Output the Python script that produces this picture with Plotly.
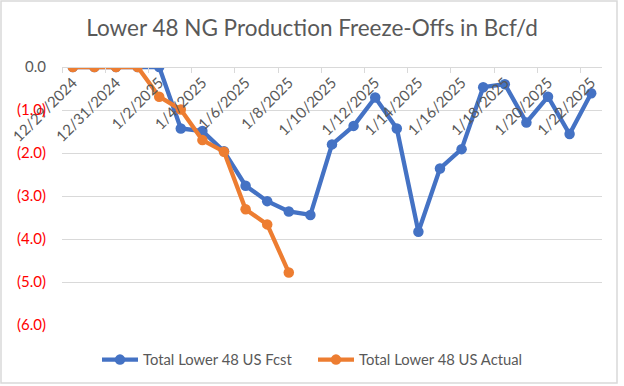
import plotly.graph_objects as go

dates = ["12/29/2024", "12/30/2024", "12/31/2024", "1/1/2025", "1/2/2025", "1/3/2025",
         "1/4/2025", "1/5/2025", "1/6/2025", "1/7/2025", "1/8/2025", "1/9/2025",
         "1/10/2025", "1/11/2025", "1/12/2025", "1/13/2025", "1/14/2025", "1/15/2025",
         "1/16/2025", "1/17/2025", "1/18/2025", "1/19/2025", "1/20/2025", "1/21/2025",
         "1/22/2025"]
fcst = [0.0, 0.0, 0.0, 0.0, 0.0, -1.43, -1.49, -1.96, -2.76, -3.12, -3.36, -3.44,
        -1.80, -1.37, -0.71, -1.43, -3.83, -2.36, -1.91, -0.47, -0.40, -1.29,
        -0.69, -1.56, -0.61]
actual = [0.0, 0.0, 0.0, 0.0, -0.69, -0.99, -1.70, -1.97, -3.31, -3.66, -4.78]
ytick_vals = [0, -1, -2, -3, -4, -5, -6]
ytick_text = ["0.0", "(1.0)", "(2.0)", "(3.0)", "(4.0)", "(5.0)", "(6.0)"]

FONT = "Lato"
GRAY = "#595959"
idx = list(range(len(dates)))

fig = go.Figure()
fig.add_trace(go.Scatter(
    x=idx, y=fcst, mode="lines+markers", name="Total Lower 48 US Fcst",
    line=dict(color="#4472C4", width=4.3), marker=dict(size=10.5, color="#4472C4"),
))
fig.add_trace(go.Scatter(
    x=idx[:len(actual)], y=actual, mode="lines+markers", name="Total Lower 48 US Actual",
    line=dict(color="#ED7D31", width=4.3), marker=dict(size=10.5, color="#ED7D31"),
))

ytext = [t if v == 0 else f'<span style="color:#FF0000">{t}</span>' for v, t in zip(ytick_vals, ytick_text)]

W, H = 624, 386
L, R, T, B = 62, 22, 67, 61
pw, ph = W - L - R, H - T - B

def px(x):
    return (x - L) / pw

def py(y):
    return (H - B - y) / ph

fig.update_layout(
    width=W, height=H,
    margin=dict(l=L, r=R, t=T, b=B, autoexpand=False),
    paper_bgcolor="white", plot_bgcolor="white",
    font=dict(family=FONT, color=GRAY, size=15),
    title=dict(text="Lower 48 NG Production Freeze-Offs in Bcf/d", x=0.5, xref="container",
               xanchor="center", y=1 - 28 / H, yanchor="middle",
               font=dict(family=FONT, size=22.5, color=GRAY)),
    showlegend=True,
    legend=dict(orientation="h", x=0.5 + 1 / W, xref="container", xanchor="center",
                y=1 - 360 / H, yref="container", yanchor="middle",
                font=dict(family=FONT, size=14.8, color=GRAY), itemwidth=36,
                entrywidth=165, entrywidthmode="pixels", tracegroupgap=0),
    xaxis=dict(
        range=[-0.5, len(dates) - 0.5], tickmode="array",
        tickvals=idx[::2], ticktext=dates[::2], tickangle=-45,
        anchor="free", position=1, side="bottom", automargin=False,
        showline=True, linecolor="#d9d9d9", linewidth=1.3,
        showgrid=False, zeroline=False, ticks="",
        tickfont=dict(family=FONT, size=15, color=GRAY),
        minor=dict(tickmode="array", tickvals=[i - 0.5 for i in range(0, len(dates) + 1, 2)],
                   ticks="outside", ticklen=5, tickcolor="#d9d9d9", tickwidth=1.3,
                   showgrid=False),
    ),
    yaxis=dict(
        range=[-6, 0], tickmode="array", tickvals=ytick_vals, ticktext=ytext,
        showgrid=True, gridcolor="#d9d9d9", gridwidth=1.3, zeroline=False,
        showline=False, ticks="", ticklabelstandoff=15, automargin=False,
        tickfont=dict(family=FONT, size=15, color=GRAY),
    ),
    shapes=[dict(type="rect", xref="paper", yref="paper",
                 x0=px(1), x1=px(617), y0=py(383), y1=py(1),
                 line=dict(color="#d9d9d9", width=1.5), fillcolor="rgba(0,0,0,0)",
                 layer="below")],
)

fig.write_html("out.html", config={"displayModeBar": False},
               post_script="document.body.style.margin='0';")
